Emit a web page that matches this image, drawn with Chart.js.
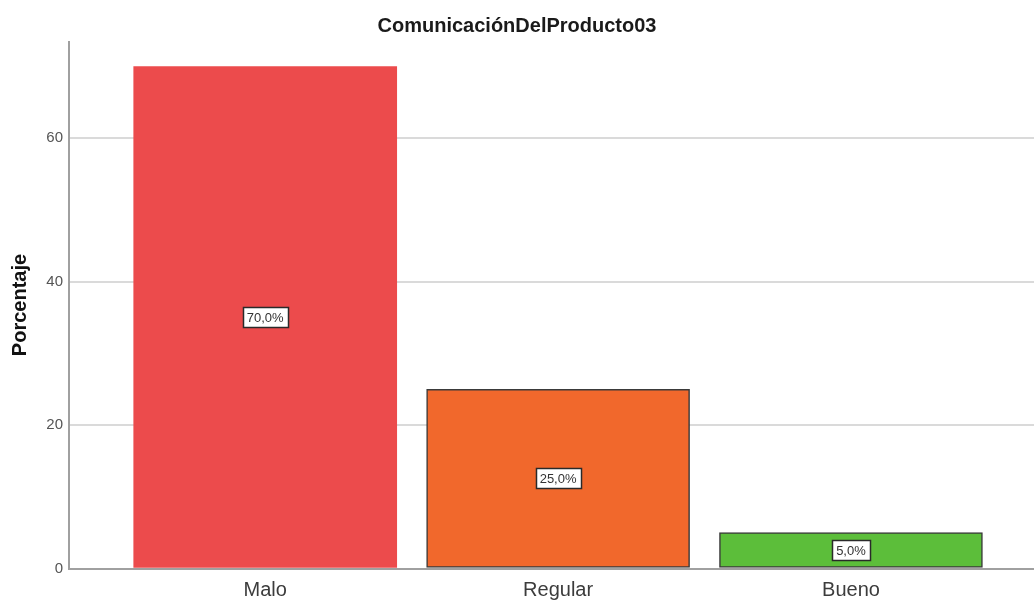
<!DOCTYPE html>
<html>
<head>
<meta charset="utf-8">
<script src="https://cdn.jsdelivr.net/npm/chart.js@4/dist/chart.umd.min.js"></script>
<style>
  html, body { margin: 0; padding: 0; background: #ffffff; }
  canvas { display: block; }
</style>
</head>
<body>
<canvas id="c" width="1034" height="600"></canvas>
<script>
const chartTitle = 'ComunicaciónDelProducto03';
const yTitle = 'Porcentaje';
const categories = ['Malo', 'Regular', 'Bueno'];
const percentages = [70.0, 25.0, 5.0];
const barColors = ['#ec4b4c', '#f1682c', '#5cbe3a'];
const barBorders = ['#ec4b4c', '#3a3a3a', '#3a3a3a'];
const barBorderWidths = [0, 1.5, 1.5];
const yTicks = [0, 20, 40, 60];

const font = "'Liberation Sans', Arial, sans-serif";

const labelPlugin = {
  id: 'valueBoxes',
  afterDatasetsDraw(chart) {
    const ctx = chart.ctx;
    const meta = chart.getDatasetMeta(0);
    ctx.save();
    ctx.font = '13px ' + font;
    ctx.textAlign = 'center';
    ctx.textBaseline = 'middle';
    meta.data.forEach((bar, i) => {
      const p = bar.getProps(['x', 'y', 'base'], true);
      const cx = p.x;
      const cy = (p.y + p.base) / 2;
      const txt = percentages[i].toFixed(1).replace('.', ',') + '%';
      const w = ctx.measureText(txt).width + 8;
      const h = 20;
      const bx = Math.round(cx - w / 2) + 0.5;
      const by = Math.round(cy - h / 2) + 0.5;
      ctx.fillStyle = '#ffffff';
      ctx.fillRect(bx, by, Math.round(w), h);
      ctx.strokeStyle = '#2a2a2a';
      ctx.lineWidth = 1.5;
      ctx.strokeRect(bx, by, Math.round(w), h);
      ctx.fillStyle = '#333333';
      ctx.fillText(txt, cx, cy + 1);
    });
    ctx.restore();
  }
};

new Chart(document.getElementById('c'), {
  type: 'bar',
  data: {
    datasets: [{
      data: percentages.map((v, i) => ({ x: i + 1, y: v })),
      backgroundColor: barColors,
      borderColor: barBorders,
      borderWidth: barBorderWidths,
      borderSkipped: false,
      barThickness: 263
    }]
  },
  options: {
    responsive: false,
    animation: false,
    layout: { padding: { left: 0, right: 0, top: 0, bottom: 0 } },
    plugins: {
      legend: { display: false },
      tooltip: { enabled: false },
      title: {
        display: true,
        text: chartTitle,
        color: '#1a1a1a',
        font: { family: font, size: 20, weight: 'bold' },
        padding: { top: 14, bottom: 3.5 }
      }
    },
    scales: {
      x: {
        type: 'linear',
        offset: false,
        min: 0.33,
        max: 3.625,
        afterBuildTicks: (scale) => { scale.ticks = categories.map((c, i) => ({ value: i + 1 })); },
        afterFit: (scale) => { scale.height = 31.5; },
        ticks: {
          callback: (v) => categories[v - 1],
          color: '#3c3c3c',
          font: { family: font, size: 20 },
          padding: 10,
          maxRotation: 0,
          autoSkip: false
        },
        grid: { offset: false, color: 'rgba(0,0,0,0)', drawTicks: false },
        border: { display: true, color: '#a0a0a0', width: 2 }
      },
      y: {
        min: 0,
        max: 73.5,
        afterBuildTicks: (scale) => { scale.ticks = yTicks.map(v => ({ value: v })); },
        afterFit: (scale) => { scale.width = 69; },
        ticks: {
          color: '#555555',
          font: { family: font, size: 15 },
          padding: 6
        },
        grid: {
          color: (c) => c.tick && c.tick.value === 0 ? 'rgba(0,0,0,0)' : '#dadada',
          lineWidth: 2,
          drawTicks: false
        },
        border: { display: true, color: '#a0a0a0', width: 2 },
        title: {
          display: true,
          text: yTitle,
          color: '#111111',
          font: { family: font, size: 20, weight: 'bold' },
          padding: { top: 8, bottom: 0 }
        }
      }
    }
  },
  plugins: [labelPlugin]
});
</script>
</body>
</html>
